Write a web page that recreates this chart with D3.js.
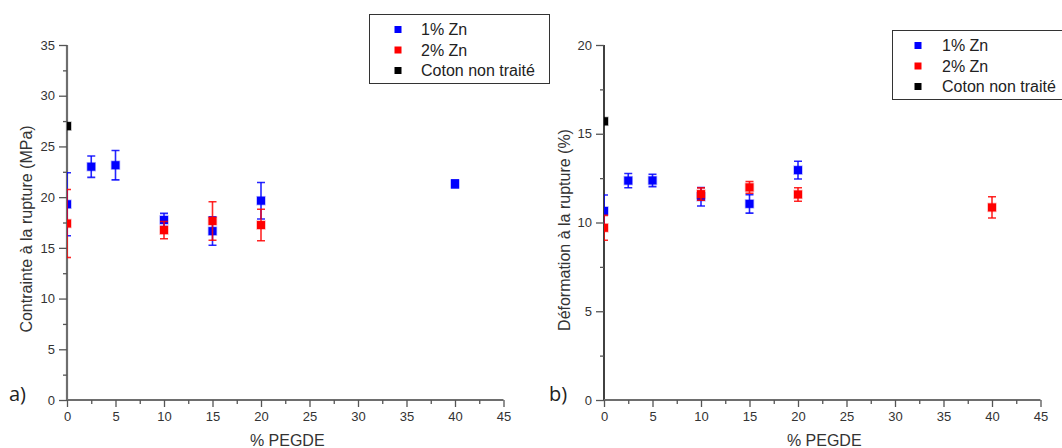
<!DOCTYPE html>
<html><head><meta charset="utf-8">
<script src="https://cdn.jsdelivr.net/npm/d3@7"></script>
<style>body{margin:0;background:#fff}svg{display:block}</style>
</head><body>
<svg id="c" width="1062" height="448"></svg>
<script>
// ---- data ----
const seriesNames = ["1% Zn", "2% Zn", "Coton non traité"];
const seriesColors = ["#0000ff", "#ff0000", "#000000"];
const xTicks = [0, 5, 10, 15, 20, 25, 30, 35, 40, 45];

// Panel a: Contrainte à la rupture (MPa)
const aBlueX = [0, 2.5, 5, 10, 15, 20, 40];
const aBlueY = [19.3, 23.0, 23.15, 17.75, 16.65, 19.65, 21.3];
const aBlueE = [3.1, 1.05, 1.45, 0.65, 1.4, 1.8, 0.4];
const aRedX = [0, 10, 15, 20];
const aRedY = [17.4, 16.75, 17.65, 17.25];
const aRedE = [3.35, 0.85, 1.9, 1.55];
const aBlackX = [0];
const aBlackY = [27.0];
const aBlackE = [0.3];
const aYTicks = [0, 5, 10, 15, 20, 25, 30, 35];

// Panel b: Déformation à la rupture (%)
const bBlueX = [0, 2.5, 5, 10, 15, 20];
const bBlueY = [10.65, 12.36, 12.37, 11.45, 11.05, 12.95];
const bBlueE = [0.9, 0.4, 0.35, 0.52, 0.52, 0.5];
const bRedX = [0, 10, 15, 20, 40];
const bRedY = [9.7, 11.6, 11.98, 11.58, 10.85];
const bRedE = [0.7, 0.35, 0.33, 0.38, 0.6];
const bBlackX = [0];
const bBlackY = [15.7];
const bBlackE = [0.15];
const bYTicks = [0, 5, 10, 15, 20];

const svg = d3.select("#c");
const font = "'Liberation Sans', Arial, sans-serif";

function zip(xs, ys, es) { return xs.map((x, i) => ({x, y: ys[i], e: es[i]})); }

function panel(cfg) {
  const x = d3.scaleLinear().domain([0, 45]).range([cfg.x0, cfg.x1]);
  const y = d3.scaleLinear().domain([0, cfg.ymax]).range([400, 45]);
  const g = svg.append("g");

  const clipId = "clip" + cfg.id;
  svg.append("clipPath").attr("id", clipId).append("rect")
    .attr("x", cfg.x0).attr("y", 30).attr("width", cfg.x1 - cfg.x0 + 10).attr("height", 370);

  // y axis
  const yAx = g.append("g").attr("transform", `translate(${cfg.x0},0)`)
    .call(d3.axisLeft(y).tickValues(cfg.yTicks).tickSize(8).tickPadding(4));
  const yMinor = g.append("g").attr("transform", `translate(${cfg.x0},0)`)
    .call(d3.axisLeft(y).tickValues(cfg.yTicks.slice(0, -1).map(v => v + cfg.yTicks[1] / 2)).tickSize(4).tickFormat(""));
  yMinor.select(".domain").remove();
  // x axis
  const xAx = g.append("g").attr("transform", `translate(0,400)`)
    .call(d3.axisBottom(x).tickValues(xTicks).tickSize(7).tickPadding(5));
  const xMinor = g.append("g").attr("transform", `translate(0,400)`)
    .call(d3.axisBottom(x).tickValues(xTicks.slice(0, -1).map(v => v + 2.5)).tickSize(4).tickFormat(""));
  xMinor.select(".domain").remove();

  [yAx, xAx].forEach(a => {
    a.selectAll("text").attr("font-family", font).attr("font-size", 13).attr("fill", "#333");
  });
  xAx.select(".domain").attr("stroke", "#6e6e6e").attr("stroke-width", 2.2);
  yAx.select(".domain").attr("stroke", cfg.yAxisColor).attr("stroke-width", cfg.yAxisWidth);
  [yAx, xAx, yMinor, xMinor].forEach(a => a.selectAll(".tick line").attr("stroke", "#555").attr("stroke-width", 1.3));
  yAx.select(".domain").attr("d", `M0,${y(cfg.ymax)}V400`);
  xAx.select(".domain").attr("d", `M${cfg.x0},0H${cfg.x1}`);

  // titles
  g.append("text").attr("transform", `translate(${cfg.titleX},${cfg.titleY}) rotate(-90)`)
    .attr("text-anchor", "middle").attr("font-family", font).attr("font-size", 16).attr("fill", "#333")
    .text(cfg.yTitle);
  g.append("text").attr("x", (cfg.x0 + cfg.x1) / 2 + 2).attr("y", 446)
    .attr("text-anchor", "middle").attr("font-family", font).attr("font-size", 16).attr("fill", "#333")
    .text("% PEGDE");
  g.append("text").attr("x", cfg.labelX).attr("y", 401)
    .attr("font-family", "'Open Sans', 'Liberation Sans', sans-serif").attr("font-size", 20).attr("fill", "#222")
    .text(cfg.label);

  // data
  const dg = g.append("g").attr("clip-path", `url(#${clipId})`);
  cfg.series.forEach((s, si) => {
    const col = seriesColors[si];
    const data = zip(s[0], s[1], s[2]);
    const eb = dg.append("g").attr("stroke", col).attr("stroke-width", 1.6).attr("stroke-opacity", 0.85);
    data.forEach(d => {
      if (!d.e) return;
      eb.append("line").attr("x1", x(d.x)).attr("x2", x(d.x)).attr("y1", y(d.y - d.e)).attr("y2", y(d.y + d.e));
      [d.y - d.e, d.y + d.e].forEach(v => eb.append("line")
        .attr("x1", x(d.x) - 4).attr("x2", x(d.x) + 4).attr("y1", y(v)).attr("y2", y(v)));
    });
    dg.append("g").selectAll("rect").data(data).join("rect")
      .attr("x", d => x(d.x) - 4).attr("y", d => y(d.y) - 4)
      .attr("width", 8).attr("height", 8).attr("fill", col)
      .attr("stroke", col).attr("stroke-opacity", 0.3).attr("stroke-width", 1.5);
  });

  // legend
  const L = cfg.legend;
  const lg = svg.append("g");
  lg.append("rect").attr("x", L.x).attr("y", L.y).attr("width", L.w).attr("height", L.h)
    .attr("fill", "#fff").attr("stroke", "#333").attr("stroke-width", 1);
  seriesNames.forEach((n, i) => {
    const cy = L.y + 15 + i * 20.5;
    lg.append("rect").attr("x", L.mx - 3.5).attr("y", cy - 3.5).attr("width", 7).attr("height", 7).attr("fill", seriesColors[i]);
    lg.append("text").attr("x", L.tx).attr("y", cy + 5.5).attr("font-family", font).attr("font-size", 16).attr("fill", "#222").text(n);
  });
}

panel({
  id: "a", x0: 67, x1: 503.5, ymax: 35, yTicks: aYTicks,
  yAxisColor: "#6e6e6e", yAxisWidth: 2.2,
  yTitle: "Contrainte à la rupture (MPa)", titleX: 32, titleY: 229,
  label: "a)", labelX: 9,
  series: [[aBlueX, aBlueY, aBlueE], [aRedX, aRedY, aRedE], [aBlackX, aBlackY, aBlackE]],
  legend: {x: 369.5, y: 14.5, w: 180, h: 69, mx: 398, tx: 421}
});
panel({
  id: "b", x0: 604, x1: 1040.5, ymax: 20, yTicks: bYTicks,
  yAxisColor: "#111", yAxisWidth: 1.6,
  yTitle: "Déformation à la rupture (%)", titleX: 570, titleY: 230,
  label: "b)", labelX: 549,
  series: [[bBlueX, bBlueY, bBlueE], [bRedX, bRedY, bRedE], [bBlackX, bBlackY, bBlackE]],
  legend: {x: 892.5, y: 30.5, w: 175, h: 69, mx: 918, tx: 942}
});
</script>
</body></html>
